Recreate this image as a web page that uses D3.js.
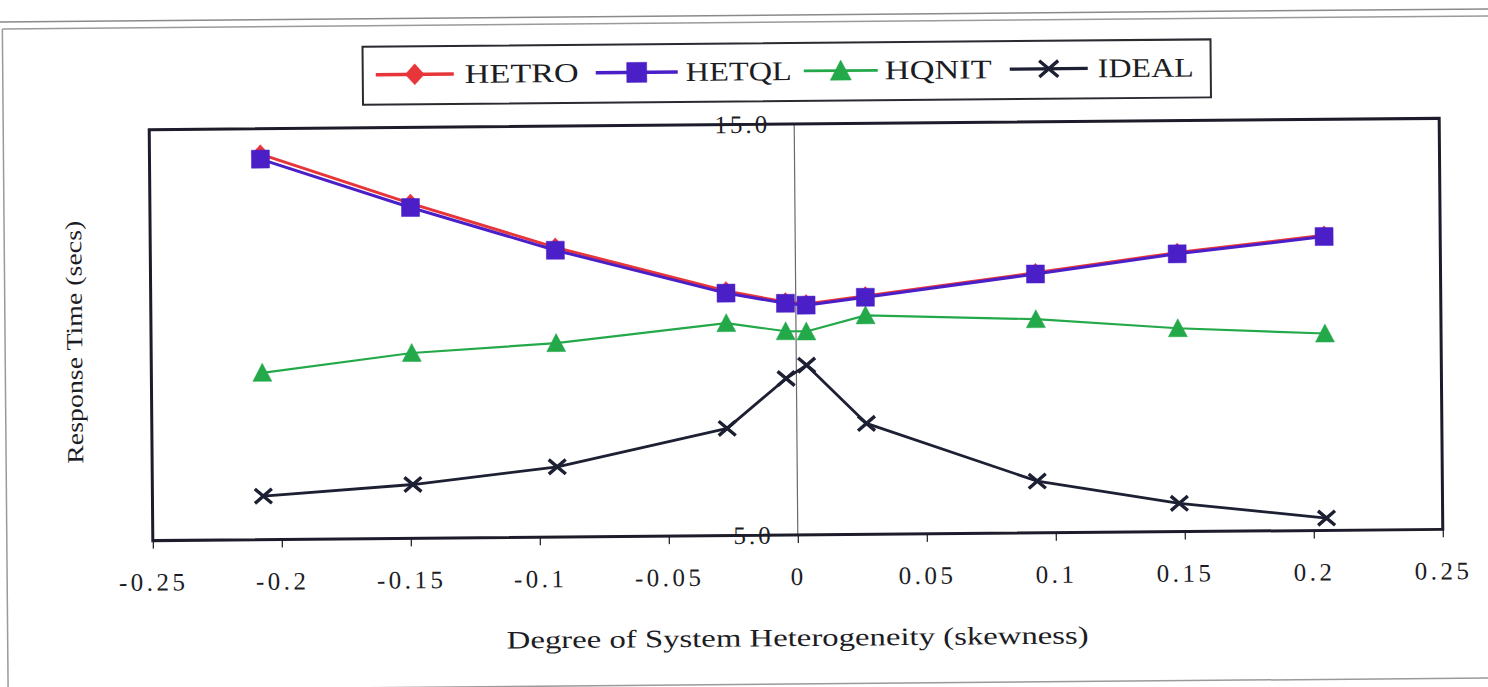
<!DOCTYPE html>
<html>
<head>
<meta charset="utf-8">
<script src="https://cdn.jsdelivr.net/npm/d3@7/dist/d3.min.js"></script>
<style>
  html, body { margin: 0; padding: 0; background: #ffffff; overflow: hidden; }
  svg { display: block; }
  text { font-family: "Liberation Serif", "Times New Roman", serif; fill: #1c1c24; }
</style>
</head>
<body>
<svg id="chart" width="1488" height="687"></svg>
<script>
// Skewness values (x) and response times (secs) per scheduling scheme
const skewness = [-0.207, -0.149, -0.093, -0.027, -0.004, 0.004, 0.027, 0.093, 0.148, 0.205];
const hetro = [14.38, 13.15, 12.05, 10.95, 10.67, 10.62, 10.80, 11.33, 11.79, 12.18];
const hetql = [14.26, 13.05, 11.98, 10.90, 10.64, 10.59, 10.77, 11.30, 11.76, 12.15];
const hqnit = [9.06, 9.51, 9.72, 10.17, 9.96, 9.95, 10.33, 10.20, 9.95, 9.79];
const ideal = [6.06, 6.31, 6.71, 7.61, 8.81, 9.13, 7.70, 6.26, 5.69, 5.30];

const seriesNames = ["HETRO", "HETQL", "HQNIT", "IDEAL"];
const xTickValues = [-0.25, -0.2, -0.15, -0.1, -0.05, 0, 0.05, 0.1, 0.15, 0.2, 0.25];
const xTickLabels = ["-0.25", "-0.2", "-0.15", "-0.1", "-0.05", "0", "0.05", "0.1", "0.15", "0.2", "0.25"];
const yTickValues = [5, 15];
const xTitle = "Degree of System Heterogeneity (skewness)";
const yTitle = "Response Time (secs)";

const styles = {
  HETRO: { color: "#e8353a", width: 3, marker: "diamond", size: 17 },
  HETQL: { color: "#4a1fc8", width: 3, marker: "square", size: 18 },
  HQNIT: { color: "#23a94a", width: 2.2, marker: "triangle", size: 17 },
  IDEAL: { color: "#1d1f33", width: 2.8, marker: "cross", size: 17 }
};
const values = { HETRO: hetro, HETQL: hetql, HQNIT: hqnit, IDEAL: ideal };

const svg = d3.select("#chart");
const root = svg.append("g").attr("transform", "rotate(-0.5, 797, 330)");

// Outer chart frame: page rule on top, then left, top and bottom edges of the chart area
const frame = root.append("g").attr("stroke", "#9a9a9a").attr("stroke-width", 1.5).attr("fill", "none");
frame.append("line").attr("x1", -10).attr("x2", 1520).attr("y1", 15).attr("y2", 15).attr("stroke", "#8a8a8a");
frame.append("line").attr("x1", 5).attr("x2", 1560).attr("y1", 22).attr("y2", 22);
frame.append("line").attr("x1", 5).attr("x2", 5).attr("y1", 22).attr("y2", 684);
frame.append("line").attr("x1", 5).attr("x2", 1560).attr("y1", 684).attr("y2", 684);

const plot = { left: 151, right: 1441, top: 124, bottom: 535 };
const x = d3.scaleLinear().domain([-0.25, 0.25]).range([plot.left, plot.right]);
const y = d3.scaleLinear().domain([5, 15]).range([plot.bottom, plot.top]);

// Value axis at x = 0
root.append("line").attr("x1", x(0)).attr("x2", x(0)).attr("y1", plot.top).attr("y2", plot.bottom)
  .attr("stroke", "#6a6a6a").attr("stroke-width", 1.2);

// Category axis ticks
const xAxis = d3.axisBottom(x).tickValues(xTickValues).tickSize(8)
  .tickFormat((d, i) => xTickLabels[i]);
const gx = root.append("g").attr("transform", `translate(0,${plot.bottom})`).call(xAxis);
gx.select(".domain").remove();
gx.selectAll(".tick line").attr("stroke", "#2a2a33").attr("stroke-width", 1.3);
gx.selectAll(".tick text")
  .attr("y", 50).attr("dy", 0)
  .style("font-family", "'Liberation Serif', serif")
  .style("font-size", "25px").style("letter-spacing", "3.5px")
  .attr("fill", "#1c1c24");

// Plot border
root.append("rect").attr("x", plot.left).attr("y", plot.top)
  .attr("width", plot.right - plot.left).attr("height", plot.bottom - plot.top)
  .attr("fill", "none").attr("stroke", "#1c1c2a").attr("stroke-width", 3);

// Value axis labels
const yAxis = d3.axisLeft(y).tickValues(yTickValues).tickSize(0).tickPadding(24)
  .tickFormat(d3.format(".1f"));
const gy = root.append("g").attr("transform", `translate(${x(0)},0)`).call(yAxis);
gy.select(".domain").remove();
gy.selectAll(".tick text")
  .style("font-family", "'Liberation Serif', serif")
  .style("font-size", "25px").style("letter-spacing", "3px")
  .attr("fill", "#1c1c24");

// Series lines and markers
const line = d3.line().x(d => x(d[0])).y(d => y(d[1]));
function markerPath(type, s) {
  const h = s / 2;
  if (type === "diamond") return `M0,${-h - 1}L${h},0L0,${h + 1}L${-h},0Z`;
  if (type === "square") return `M${-h},${-h}H${h}V${h}H${-h}Z`;
  if (type === "triangle") return `M0,${-h - 1}L${h + 1},${h}L${-h - 1},${h}Z`;
  return `M${-h},${-h * 0.85}L${h},${h * 0.85}M${-h},${h * 0.85}L${h},${-h * 0.85}`;
}
function drawSeries(g, name) {
  const st = styles[name];
  const pts = skewness.map((sx, i) => [sx, values[name][i]]);
  g.append("path").datum(pts).attr("d", line)
    .attr("fill", "none").attr("stroke", st.color).attr("stroke-width", st.width)
    .attr("stroke-linejoin", "round");
  g.selectAll(null).data(pts).enter().append("path")
    .attr("transform", d => `translate(${x(d[0])},${y(d[1])})`)
    .attr("d", markerPath(st.marker, st.size))
    .attr("fill", st.marker === "cross" ? "none" : st.color)
    .attr("stroke", st.color)
    .attr("stroke-width", st.marker === "cross" ? 3.4 : 0.5);
}
const gs = root.append("g");
["HQNIT", "IDEAL", "HETRO", "HETQL"].forEach(n => drawSeries(gs, n));

// Legend
const legend = root.append("g");
legend.append("rect").attr("x", 365).attr("y", 43).attr("width", 848).attr("height", 58)
  .attr("fill", "#ffffff").attr("stroke", "#2a2a30").attr("stroke-width", 2);
const legendItems = [
  { name: "HETRO", x1: 378, x2: 456, tx: 467, tw: 114 },
  { name: "HETQL", x1: 598, x2: 680, tx: 688, tw: 106 },
  { name: "HQNIT", x1: 806, x2: 880, tx: 887, tw: 107 },
  { name: "IDEAL", x1: 1012, x2: 1090, tx: 1100, tw: 96 }
];
legendItems.forEach(it => {
  const st = styles[it.name];
  const ly = 71;
  legend.append("line").attr("x1", it.x1).attr("x2", it.x2).attr("y1", ly).attr("y2", ly)
    .attr("stroke", st.color).attr("stroke-width", st.width + 0.5);
  legend.append("path").attr("transform", `translate(${(it.x1 + it.x2) / 2},${ly})`)
    .attr("d", markerPath(st.marker, st.size + 2))
    .attr("fill", st.marker === "cross" ? "none" : st.color)
    .attr("stroke", st.color).attr("stroke-width", st.marker === "cross" ? 3.4 : 0.5);
  legend.append("text").attr("x", it.tx).attr("y", ly + 9)
    .attr("textLength", it.tw).attr("lengthAdjust", "spacingAndGlyphs")
    .style("font-size", "27px").text(it.name);
});

// Axis titles
root.append("text").attr("x", 795).attr("y", 646).attr("text-anchor", "middle")
  .attr("textLength", 582).attr("lengthAdjust", "spacingAndGlyphs")
  .style("font-size", "25px").text(xTitle);
root.append("text").attr("transform", "translate(82,336) rotate(-90)")
  .attr("text-anchor", "middle")
  .attr("textLength", 243).attr("lengthAdjust", "spacingAndGlyphs")
  .style("font-size", "23px").text(yTitle);
</script>
</body>
</html>
